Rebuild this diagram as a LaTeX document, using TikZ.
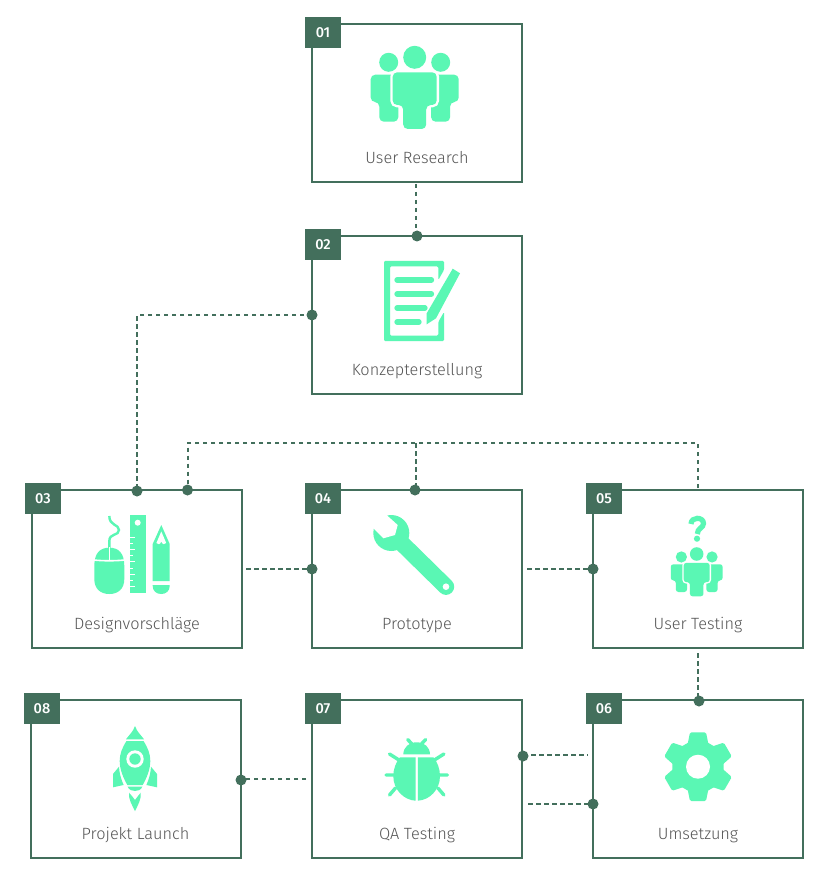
\documentclass[tikz,border=0pt]{standalone}
\usepackage{fontspec}
\setmainfont{Fira Sans}
\newfontfamily\labelfont{Fira Sans Light}
\newfontfamily\badgefont{Fira Sans Medium}
\definecolor{darkg}{HTML}{436F5C}
\definecolor{mint}{HTML}{5AF7B4}
\definecolor{labelgray}{HTML}{555555}
\tikzset{
  stepbox/.style={draw=darkg,line width=2pt,fill=white,minimum width=210pt,minimum height=158pt,inner sep=0pt},
  badge/.style={fill=darkg,text=white,minimum width=36pt,minimum height=31pt,inner sep=0pt,font=\badgefont\fontsize{14.5}{16}\selectfont},
  steplabel/.style={text=labelgray,inner sep=0pt,anchor=base,font=\labelfont\fontsize{16.3}{18}\selectfont},
  dotn/.style={circle,fill=darkg,minimum size=11pt,inner sep=0pt},
  conn/.style={draw=darkg,line width=2pt,dash pattern=on 4.5pt off 3.5pt},
  ico/.style={fill=mint,draw=none},
  whiteline/.style={draw=white,line width=1.6pt},
}
\newcommand{\peopleicon}[3]{%
  \begin{scope}[shift={(#1,#2)},scale=#3]
    \pgfmathsetmacro{\rc}{4.5*#3}
    \pgfmathsetmacro{\gapw}{4.8*#3}
    \fill[ico] (0,0) circle (11.5);
    \fill[ico] (-26,5) circle (9.5);
    \fill[ico] (26,5) circle (9.5);
    \fill[ico,rounded corners=\rc pt] (-44,17.4) -- (-16.4,17.4) -- (-16.4,64.4) -- (-35.4,64.4) -- (-35.4,44.7) -- (-44,44.7) -- cycle;
    \fill[ico,rounded corners=\rc pt] (44,17.4) -- (16.4,17.4) -- (16.4,64.4) -- (35.4,64.4) -- (35.4,44.7) -- (44,44.7) -- cycle;
    \path[fill=mint,draw=white,line width=\gapw pt,rounded corners=\rc pt]
      (-22,15) -- (22,15) -- (22,47.7) -- (11.5,47.7) -- (11.5,71.7) -- (-11.5,71.7) -- (-11.5,47.7) -- (-22,47.7) -- cycle;
    \fill[ico,rounded corners=\rc pt]
      (-22,15) -- (22,15) -- (22,47.7) -- (11.5,47.7) -- (11.5,71.7) -- (-11.5,71.7) -- (-11.5,47.7) -- (-22,47.7) -- cycle;
  \end{scope}}
\begin{document}
\begin{tikzpicture}[x=1pt,y=-1pt]
\useasboundingbox[fill=white] (0,0) rectangle (828,882);
% boxes
\node[stepbox] (b1) at (417,103) {};
\node[stepbox] (b2) at (417,315) {};
\node[stepbox] (b3) at (137,569) {};
\node[stepbox] (b4) at (417,569) {};
\node[stepbox] (b5) at (698,569) {};
\node[stepbox] (b8) at (136,779) {};
\node[stepbox] (b7) at (417,779) {};
\node[stepbox] (b6) at (698,779) {};
% badges
\node[badge] (n1) at (323,32.5) {01};
\node[badge] (n2) at (323,244.5) {02};
\node[badge] (n3) at (43,498.5) {03};
\node[badge] (n4) at (323,498.5) {04};
\node[badge] (n5) at (604,498.5) {05};
\node[badge] (n8) at (42,708.5) {08};
\node[badge] (n7) at (323,708.5) {07};
\node[badge] (n6) at (604,708.5) {06};
% labels
\node[steplabel] (l1) at (417,163.5) {User Research};
\node[steplabel] (l2) at (417,375.5) {Konzepterstellung};
\node[steplabel] (l3) at (137,629.5) {Designvorschläge};
\node[steplabel] (l4) at (417,629.5) {Prototype};
\node[steplabel] (l5) at (698,629.5) {User Testing};
\node[steplabel] (l8) at (135.5,839.5) {Projekt Launch};
\node[steplabel] (l7) at (417,839.5) {QA Testing};
\node[steplabel] (l6) at (698,839.5) {Umsetzung};
% icon 01
\peopleicon{414.7}{57.3}{1}
% icon 02
\fill[ico,rounded corners=1.2pt] (384,261) -- (444,261) -- (444,270) -- (438.3,280) -- (438.3,266.5) -- (390,266.5) -- (390,335.5) -- (438.3,335.5) -- (438.3,322) -- (444,312) -- (444,341) -- (384,341) -- cycle;
\draw[mint,line width=5.3pt,line cap=round] (397,280) -- (431.5,280);
\draw[mint,line width=5.3pt,line cap=round] (397,294) -- (431.5,294);
\draw[mint,line width=5.3pt,line cap=round] (397,308) -- (425,308);
\draw[mint,line width=5.3pt,line cap=round] (397,322) -- (419,322);
\fill[ico] (452.7,268.7) -- (460,273.3) -- (436,318.3) -- (426.7,324.3) -- (426.7,313.3) -- cycle;
% icon 03 mouse
\draw[mint,line width=2.4pt] (109.3,548) -- (109.3,541) .. controls (109.3,533) and (119,536) .. (119,530) .. controls (119,524) and (109.3,526) .. (109.3,516);
\fill[ico] (94.3,566) .. controls (94.3,553) and (100,547.7) .. (109.3,547.7) .. controls (118.6,547.7) and (124.3,553) .. (124.3,566) -- (124.3,579) .. controls (124.3,589) and (118,594) .. (109.3,594) .. controls (100.6,594) and (94.3,589) .. (94.3,579) -- cycle;
\draw[whiteline] (94,560) .. controls (102,561) and (116,561) .. (124.6,560);
\draw[whiteline] (109.3,547) -- (109.3,560.5);
% ruler
\fill[ico] (130,515) rectangle (146.3,593.3);
\fill[white] (137.7,522.7) circle (3);
\foreach \ty/\tl in {537.3/4.8,543.4/3,549.6/4.8,555.8/3,561.9/4.8,568/3,574.2/4.8,580.3/3,586.5/4.8}
  \draw[white,line width=1pt] (130,\ty) -- ++(\tl,0);
% pencil
\fill[ico] (161.3,525) -- (169.7,544) -- (169.7,581) -- (152.7,581) -- (152.7,544) -- cycle;
\fill[white] (161.3,531.5) -- (166.2,543) .. controls (164.8,545) and (162.6,544.8) .. (161.3,541.5) .. controls (160,544.8) and (157.8,545) .. (156.4,543) -- cycle;
\fill[ico] (152.7,585) -- (169.7,585) -- (169.7,586) .. controls (169.7,591) and (166,594) .. (161.2,594) .. controls (156.4,594) and (152.7,591) .. (152.7,586) -- cycle;
% icon 04 wrench
\draw[mint,line width=16.4pt,line cap=round] (400,541.5) -- (446,586.7);
\fill[ico] (391.3,533) circle (18);
\fill[white] (387.3,515.7) -- (397.7,525) -- (395,535) -- (383.3,538.3) -- (373.3,528.3) -- (366,508) -- (387.3,508) -- cycle;
\fill[white] (446,586.7) circle (3.3);
% icon 05
\peopleicon{696.7}{554}{0.59}
\draw[mint,line width=5.2pt] (691,524) .. controls (691,516.5) and (703.5,516.5) .. (703.5,523.5) .. controls (703.5,528) and (697.3,528) .. (697.3,534);
\fill[ico] (697,538.7) circle (3.1);
% icon 06 gear
\begin{scope}[shift={(698,766.7)}]
  \fill[ico] (90:29.7) -- (150:29.7) -- (210:29.7) -- (270:29.7) -- (330:29.7) -- (30:29.7) -- cycle;
  \foreach \ang in {0,60,120,180,240,300}
    \fill[ico,rotate=\ang,rounded corners=1.5pt] (-10.5,-22) -- (-8,-34.4) -- (8,-34.4) -- (10.5,-22) -- cycle;
  \fill[white] (0,0) circle (12);
\end{scope}
% icon 07 bug
\fill[ico] (403.3,754.3) .. controls (403.5,747) and (409,742.3) .. (416.7,742.3) .. controls (424.4,742.3) and (429.8,747) .. (430,754.3) -- cycle;
\fill[ico] (415.5,757.3) -- (400,757.3) .. controls (396,762) and (393.3,769) .. (393.3,776) .. controls (393.3,790) and (404,800) .. (415.5,800.7) -- cycle;
\fill[ico] (417.9,757.3) -- (433.4,757.3) .. controls (437.4,762) and (440,769) .. (440,776) .. controls (440,790) and (429.4,800) .. (417.9,800.7) -- cycle;
\draw[mint,line width=3.4pt,line cap=round]
  (411.7,743.7) -- (407.7,739.5) (421.7,743.7) -- (425.7,739.5)
  (399,760) -- (389.5,754) (434.4,760) -- (443.9,754)
  (394,775) -- (386,775) (439.4,775) -- (447.4,775)
  (395.5,788) -- (389.5,795) (437.9,788) -- (443.9,795);
% icon 08 rocket
\fill[ico] (135,726) .. controls (137,732) and (141,735) .. (144,739.3) -- (126,739.3) .. controls (129,735) and (133,732) .. (135,726) -- cycle;
\fill[ico] (126.5,741) -- (143.5,741) .. controls (148,748) and (150.3,754) .. (150.3,761) .. controls (150.3,770) and (146.5,778) .. (142.7,785) -- (127.3,785) .. controls (123.5,778) and (119.7,770) .. (119.7,761) .. controls (119.7,754) and (122,748) .. (126.5,741) -- cycle;
\fill[white] (135,759) circle (8.7);
\fill[ico] (135,759) circle (5.7);
\fill[ico] (119,766.7) -- (113,774) -- (113,787.3) -- (123.6,785) .. controls (121,779) and (119.3,773) .. (119,766.7) -- cycle;
\fill[ico] (151,766.7) -- (157,774) -- (157,787.3) -- (146.4,785) .. controls (149,779) and (150.7,773) .. (151,766.7) -- cycle;
\fill[ico] (127.7,786.7) -- (142.3,786.7) .. controls (141,790) and (138,791) .. (135,791) .. controls (132,791) and (129,790) .. (127.7,786.7) -- cycle;
\fill[ico] (129,792.7) .. controls (131,795) and (133,797) .. (135,800) .. controls (137,797) and (139,795) .. (140.7,792.7) .. controls (141.5,799) and (138,805) .. (135,811) .. controls (132,805) and (128.3,799) .. (129,792.7) -- cycle;
% connection dots
\node[dotn] (d2t) at (417,236) {};
\node[dotn] (d2l) at (312,315) {};
\node[dotn] (d3a) at (137,491) {};
\node[dotn] (d3b) at (187.5,490) {};
\node[dotn] (d4t) at (415,490) {};
\node[dotn] (d4l) at (312,569) {};
\node[dotn] (d5l) at (593,569) {};
\node[dotn] (d6t) at (699,701) {};
\node[dotn] (d7r) at (523,756) {};
\node[dotn] (d6l) at (593,804) {};
\node[dotn] (d8r) at (241,780) {};
% free ends
\coordinate (c1b) at (416,184);
\coordinate (c3r) at (246,569);
\coordinate (c4r) at (527,569);
\coordinate (c5t) at (698,488);
\coordinate (c5b) at (698,653);
\coordinate (c6l) at (588,755);
\coordinate (c7r) at (528,804);
\coordinate (c7l) at (306,779);
\coordinate (barR) at (698,443);
\coordinate (barM) at (415.7,443);
\coordinate (barL) at (187.5,443);
% connectors
\draw[conn] (c1b) -- (c1b |- d2t);
\draw[conn] (d2l.center) -| (d3a.center);
\draw[conn] (c5t) -- (barR) -- (barL) -- (d3b.center);
\draw[conn] (barM) -- (barM |- d4t);
\draw[conn] (c3r) -- (d4l.center);
\draw[conn] (c4r) -- (d5l.center);
\draw[conn] (c5b) -- (c5b |- d6t);
\draw[conn] (d7r.center |- c6l) -- (c6l);
\draw[conn] (c7r) -- (d6l.center);
\draw[conn] (c7l) -- (c7l -| d8r);
\end{tikzpicture}
\end{document}
